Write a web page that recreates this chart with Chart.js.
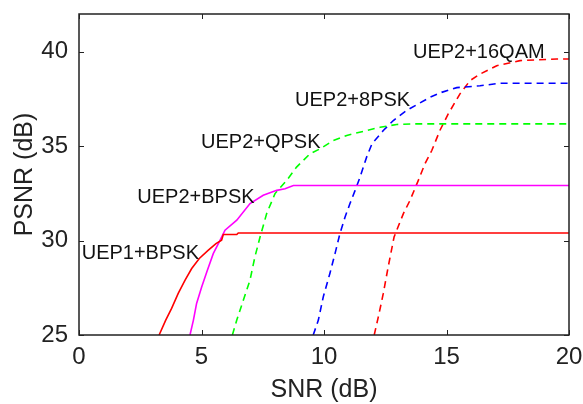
<!DOCTYPE html>
<html>
<head>
<meta charset="utf-8">
<script src="https://cdn.jsdelivr.net/npm/chart.js@4"></script>
<style>
    html, body { margin: 0; padding: 0; background: #fff; }
    #wrap { width: 583px; height: 404px; position: relative; }
</style>
</head>
<body>
<div id="wrap"><canvas id="psnrChart"></canvas></div>
<script>
const xTicks = [0, 5, 10, 15, 20];
const yTicks = [25, 30, 35, 40];

// UEP1+BPSK (red solid)
const uep1BpskSnr  = [3.27, 3.54, 3.78, 4.05, 4.33, 4.60, 4.91, 5.28, 5.59, 5.82, 5.89, 6.44, 6.50, 20];
const uep1BpskPsnr = [25.0, 25.79, 26.41, 27.2, 27.91, 28.52, 29.05, 29.49, 29.84, 30.02, 30.32, 30.32, 30.4, 30.4];

// UEP2+BPSK (magenta solid)
const uep2BpskSnr  = [4.53, 4.67, 4.80, 5.01, 5.24, 5.48, 5.76, 5.96, 6.44, 6.98, 7.52, 8.07, 8.41, 8.75, 20];
const uep2BpskPsnr = [25.0, 25.79, 26.67, 27.55, 28.43, 29.31, 30.02, 30.55, 31.08, 31.96, 32.4, 32.66, 32.75, 32.92, 32.92];

// UEP2+QPSK (green dashed)
const uep2QpskSnr  = [6.26, 6.44, 6.71, 6.98, 7.18, 7.39, 7.66, 8.00, 8.48, 8.88, 9.43, 9.84, 10.38, 10.93, 11.74, 12.29, 12.97, 13.65, 20];
const uep2QpskPsnr = [25.0, 25.79, 26.85, 27.91, 29.14, 30.19, 31.43, 32.49, 33.19, 33.89, 34.6, 34.86, 35.3, 35.57, 35.83, 36.0, 36.15, 36.18, 36.18];

// UEP2+8PSK (blue dashed)
const uep28pskSnr  = [9.56, 9.77, 9.97, 10.24, 10.45, 10.65, 10.86, 11.06, 11.27, 11.47, 11.74, 11.96, 12.42, 12.83, 13.37, 13.85, 14.33, 14.80, 15.42, 16.37, 17.18, 20];
const uep28pskPsnr = [25.0, 25.79, 27.02, 28.26, 29.31, 30.37, 31.25, 31.96, 32.66, 33.36, 34.42, 35.13, 35.83, 36.36, 36.89, 37.24, 37.59, 37.85, 38.1, 38.2, 38.33, 38.33];

// UEP2+16QAM (red dashed)
const uep216qamSnr  = [12.05, 12.22, 12.42, 12.62, 12.86, 13.24, 13.51, 13.85, 14.12, 14.40, 14.73, 15.07, 15.55, 15.96, 16.37, 17.05, 18.0, 19.5, 20];
const uep216qamPsnr = [25.0, 25.97, 27.2, 28.61, 30.19, 31.43, 32.13, 33.19, 34.07, 34.77, 35.83, 36.71, 37.77, 38.47, 38.82, 39.26, 39.53, 39.62, 39.62];

// text annotations (left edge, vertical middle) in data units
const labelTexts = ["UEP1+BPSK", "UEP2+BPSK", "UEP2+QPSK", "UEP2+8PSK", "UEP2+16QAM"];
const labelSnr   = [0.11, 2.38, 4.98, 8.82, 13.63];
const labelPsnr  = [29.32, 32.26, 35.17, 37.41, 39.95];

function toPoints(xs, ys) {
    return xs.map((x, i) => ({ x: x, y: ys[i] }));
}

const axisColor = '#222';
const fontFamily = '"Liberation Sans", Arial, sans-serif';

// box + inward ticks on all four sides, plus the text labels
const matlabAxes = {
    id: 'matlabAxes',
    afterDatasetsDraw(chart) {
        const ctx = chart.ctx;
        const a = chart.chartArea;
        const xs = chart.scales.x;
        const ys = chart.scales.y;
        const tl = 5;
        ctx.save();
        ctx.strokeStyle = axisColor;
        ctx.lineWidth = 1.5;
        ctx.strokeRect(a.left, a.top, a.right - a.left, a.bottom - a.top);
        ctx.lineWidth = 1;
        ctx.beginPath();
        for (let v of xTicks) {
            const px = Math.round(xs.getPixelForValue(v)) + 0.5;
            ctx.moveTo(px, a.bottom); ctx.lineTo(px, a.bottom - tl);
            ctx.moveTo(px, a.top); ctx.lineTo(px, a.top + tl);
        }
        for (let v of yTicks) {
            const py = Math.round(ys.getPixelForValue(v)) + 0.5;
            ctx.moveTo(a.left, py); ctx.lineTo(a.left + tl, py);
            ctx.moveTo(a.right, py); ctx.lineTo(a.right - tl, py);
        }
        ctx.stroke();

        ctx.fillStyle = '#111';
        ctx.font = '20px ' + fontFamily;
        ctx.textAlign = 'left';
        ctx.textBaseline = 'middle';
        for (let i = 0; i < labelTexts.length; i++) {
            ctx.fillText(labelTexts[i], xs.getPixelForValue(labelSnr[i]), ys.getPixelForValue(labelPsnr[i]));
        }
        ctx.restore();
    }
};

function series(label, xs, ys, color, dashed) {
    return {
        label: label,
        data: toPoints(xs, ys),
        borderColor: color,
        backgroundColor: color,
        borderWidth: 1.6,
        borderDash: dashed ? [7, 5] : [],
        pointRadius: 0,
        tension: 0,
        showLine: true,
        fill: false
    };
}

const ctxEl = document.getElementById('psnrChart').getContext('2d');
const psnrChart = new Chart(ctxEl, {
    type: 'scatter',
    data: {
        datasets: [
            series('UEP1+BPSK', uep1BpskSnr, uep1BpskPsnr, '#ff0000', false),
            series('UEP2+BPSK', uep2BpskSnr, uep2BpskPsnr, '#ff00ff', false),
            series('UEP2+QPSK', uep2QpskSnr, uep2QpskPsnr, '#00ff00', true),
            series('UEP2+8PSK', uep28pskSnr, uep28pskPsnr, '#0000ff', true),
            series('UEP2+16QAM', uep216qamSnr, uep216qamPsnr, '#ff0000', true),
        ]
    },
    options: {
        responsive: true,
        maintainAspectRatio: false,
        animation: false,
        layout: { padding: { top: 14, right: 14, left: 0, bottom: 0 } },
        plugins: {
            legend: { display: false },
            tooltip: { enabled: false }
        },
        scales: {
            x: {
                type: 'linear',
                min: 0,
                max: 20,
                grid: { display: false, drawTicks: false },
                border: { display: false },
                afterBuildTicks: s => { s.ticks = xTicks.map(v => ({ value: v })); },
                afterFit: s => { s.height = 69; s.paddingLeft = 0; s.paddingRight = 0; },
                ticks: {
                    color: axisColor,
                    padding: 8,
                    maxRotation: 0,
                    font: { family: fontFamily, size: 24 }
                },
                title: {
                    display: true,
                    text: 'SNR (dB)',
                    color: axisColor,
                    font: { family: fontFamily, size: 25, lineHeight: 1 },
                    padding: { top: 0, bottom: 1 }
                }
            },
            y: {
                type: 'linear',
                min: 25,
                max: 42,
                grid: { display: false, drawTicks: false },
                border: { display: false },
                afterBuildTicks: s => { s.ticks = yTicks.map(v => ({ value: v })); },
                afterFit: s => { s.width = 79; s.paddingTop = 0; s.paddingBottom = 0; },
                ticks: {
                    color: axisColor,
                    padding: 11,
                    font: { family: fontFamily, size: 24 }
                },
                title: {
                    display: true,
                    text: 'PSNR (dB)',
                    color: axisColor,
                    font: { family: fontFamily, size: 25, lineHeight: 1 },
                    padding: { top: 13, bottom: 0 }
                }
            }
        }
    },
    plugins: [matlabAxes]
});
</script>
</body>
</html>
